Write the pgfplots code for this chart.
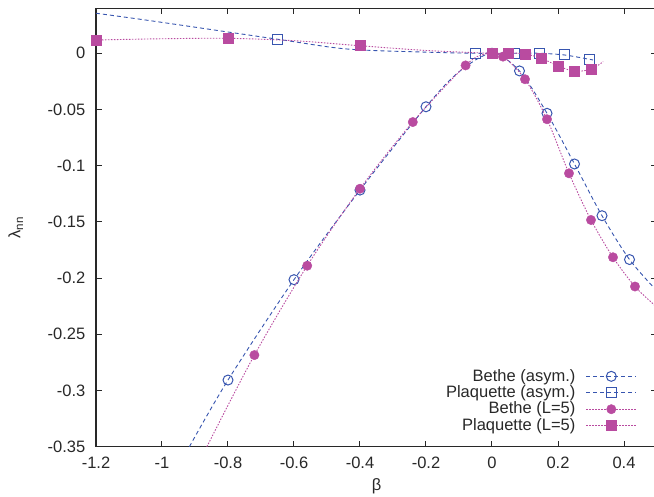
\documentclass[border=0pt]{standalone}
\usepackage{fontspec}
\setmainfont{Liberation Sans}
\usepackage{pgfplots}
\pgfplotsset{compat=1.18}
\definecolor{bblue}{RGB}{55,85,175}
\definecolor{bpink}{RGB}{185,75,160}
\definecolor{fg}{RGB}{40,40,40}
\begin{document}
\fontsize{16.5}{19}\selectfont
\begin{tikzpicture}
\begin{axis}[
  scale only axis, width=561pt, height=438.4pt,
  xmin=-1.2, xmax=0.5, ymin=-0.35, ymax=0.04,
  xtick={-1.2,-1,-0.8,-0.6,-0.4,-0.2,0,0.2,0.4},
  xticklabels={-1.2,-1,-0.8,-0.6,-0.4,-0.2,0,0.2,0.4},
  ytick={-0.35,-0.3,-0.25,-0.2,-0.15,-0.1,-0.05,0},
  yticklabels={-0.35,-0.3,-0.25,-0.2,-0.15,-0.1,-0.05,0},
  tick align=inside, major tick length=6pt,
  tick style={fg, line width=1pt},
  axis line style={fg, line width=1.2pt},
  xticklabel style={yshift=-5pt, text=fg},
  yticklabel style={xshift=-5pt, text=fg},
  xlabel={β}, ylabel={λ\textsubscript{nn}},
  xlabel style={at={(axis description cs:0.5,-0.091)}, anchor=center, text=fg},
  ylabel style={at={(axis description cs:-0.143,0.5)}, anchor=center, text=fg},
  clip mode=individual,
  legend plot pos=right, legend cell align=right,
  legend style={at={(0.9643,0.03)}, anchor=south east, draw=none, fill=none,
    inner sep=0pt, row sep=1pt, column sep=10pt, nodes={inner sep=0.5pt, text=fg}},
]
% Bethe (asym.)
\addplot[bblue, dash pattern=on 4pt off 3pt, line width=0.9pt, smooth, forget plot] coordinates {
 (-0.917,-0.35) (-0.8,-0.2907) (-0.6,-0.2014) (-0.4,-0.1217) (-0.2,-0.0476) (-0.1,-0.0165)
 (0,0) (0.0833,-0.0157) (0.1667,-0.0534) (0.25,-0.0985) (0.3333,-0.1445) (0.4167,-0.1835) (0.5,-0.2115)};
\addplot[bblue, only marks, mark=o, mark size=5pt, line width=1pt,
  legend image code/.code={\draw[bblue, dash pattern=on 4pt off 3pt, line width=0.9pt] (0pt,0pt) -- (50pt,0pt);
    \draw[bblue, line width=1pt] plot[only marks, mark=o, mark size=5pt] coordinates {(25pt,0pt)};}]
 coordinates {(-0.8,-0.2907) (-0.6,-0.2014) (-0.4,-0.1217) (-0.2,-0.0476) (0,0)
 (0.0833,-0.0157) (0.1667,-0.0534) (0.25,-0.0985) (0.3333,-0.1445) (0.4167,-0.1835)};
\addlegendentry{Bethe (asym.)}
% Plaquette (asym.)
\addplot[bblue, dash pattern=on 4pt off 3pt, line width=0.9pt, smooth, forget plot] coordinates {
 (-1.2,0.0356) (-1.036,0.029) (-0.65,0.0125) (-0.44,0.0038) (-0.2,0.001) (-0.05,0)
 (0.067,0) (0.143,0) (0.219,-0.0015) (0.294,-0.0053) (0.306,-0.006)};
\addplot[bblue, only marks, mark=square, mark size=5pt, line width=1pt,
  legend image code/.code={\draw[bblue, dash pattern=on 4pt off 3pt, line width=0.9pt] (0pt,0pt) -- (50pt,0pt);
    \draw[bblue, line width=1pt] plot[only marks, mark=square, mark size=5pt] coordinates {(25pt,0pt)};}]
 coordinates {(-0.65,0.0125) (-0.05,0) (0.067,0) (0.143,0) (0.219,-0.0015) (0.294,-0.0053)};
\addlegendentry{Plaquette (asym.)}
% Bethe (L=5)
\addplot[bpink, dash pattern=on 1.5pt off 1.5pt, line width=0.9pt, smooth, forget plot] coordinates {
 (-0.864,-0.35) (-0.72,-0.2685) (-0.56,-0.189) (-0.4,-0.1205) (-0.24,-0.0612) (-0.08,-0.0108)
 (-0.02,-0.0005) (0.0333,-0.003) (0.1,-0.0231) (0.1667,-0.0587) (0.2333,-0.1068) (0.3,-0.1483)
 (0.3667,-0.1815) (0.4333,-0.2075) (0.5,-0.226)};
\addplot[bpink, only marks, mark=*, mark size=4.7pt,
  legend image code/.code={\draw[bpink, dash pattern=on 1.5pt off 1.5pt, line width=0.9pt] (0pt,0pt) -- (50pt,0pt);
    \draw[bpink] plot[only marks, mark=*, mark size=4.7pt] coordinates {(25pt,0pt)};}]
 coordinates {(-0.72,-0.2685) (-0.56,-0.189) (-0.4,-0.1205) (-0.24,-0.0612) (-0.08,-0.0108)
 (0.0333,-0.003) (0.1,-0.0231) (0.1667,-0.0587) (0.2333,-0.1068) (0.3,-0.1483) (0.3667,-0.1815) (0.4333,-0.2075)};
\addlegendentry{Bethe (L=5)}
% Plaquette (L=5)
\addplot[bpink, dash pattern=on 1.5pt off 1.5pt, line width=0.9pt, smooth, forget plot] coordinates {
 (-1.2,0.0118) (-1.0,0.0129) (-0.8,0.0133) (-0.6,0.0112) (-0.4,0.0067) (-0.2,0.0025) (0,0)
 (0.05,0.0003) (0.1,-0.0006) (0.15,-0.0045) (0.2,-0.0113) (0.25,-0.016) (0.3,-0.0142) (0.337,-0.0075)};
\addplot[bpink, only marks, mark=square*, mark size=5pt,
  legend image code/.code={\draw[bpink, dash pattern=on 1.5pt off 1.5pt, line width=0.9pt] (0pt,0pt) -- (50pt,0pt);
    \draw[bpink] plot[only marks, mark=square*, mark size=5pt] coordinates {(25pt,0pt)};}]
 coordinates {(-1.2,0.0118) (-0.8,0.0133) (-0.4,0.0068) (0,0) (0.05,0.0003) (0.1,-0.0006)
 (0.15,-0.0045) (0.2,-0.0113) (0.25,-0.016) (0.3,-0.0142)};
\addlegendentry{Plaquette (L=5)}
\end{axis}
\pgfresetboundingbox
\useasboundingbox (-96pt,-49.3pt) rectangle (558pt,446.7pt);
\end{tikzpicture}
\end{document}
